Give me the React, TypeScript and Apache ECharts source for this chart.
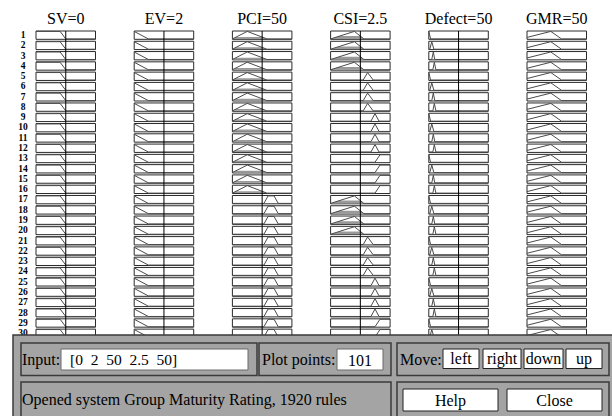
import { useEffect, useRef } from "react";
import * as echarts from "echarts";

// ---------- data ----------
const titles = ["SV=0", "EV=2", "PCI=50", "CSI=2.5", "Defect=50", "GMR=50"];
const inputValues = [0, 2, 50, 2.5, 50]; // SV, EV, PCI, CSI, Defect
const varRanges: number[][] = [[-1, 1], [0, 4], [0, 100], [0, 5], [0, 100], [0, 100]];
const rowLabels = ["1","2","3","4","5","6","7","8","9","10","11","12","13","14","15","16","17","18","19","20","21","22","23","24","25","26","27","28","29","30"];

// membership functions as [x, mu] vertices
const svMFs = [[[-1, 1], [-0.19, 1], [0, 0], [1, 0]]];
const evMFs = [[[0, 1], [0.95, 0], [4, 0]]];
const pciMFs = [
  [[0, 0], [25, 1], [58, 0], [100, 0]],
  [[0, 0], [53, 0], [60, 1], [70, 1], [77, 0], [100, 0]],
];
const csiMFs = [
  [[0, 0], [2.0, 1], [2.8, 0], [5, 0]],
  [[0, 0], [2.74, 0], [3.11, 1], [3.58, 0], [5, 0]],
  [[0, 0], [3.39, 0], [3.73, 1], [4.07, 0], [5, 0]],
  [[0, 0], [3.73, 0], [4.15, 1], [5, 1]],
];
const defectMFs = [
  [[0, 1], [3, 0], [100, 0]],
  [[0, 0], [1.7, 0], [5, 1], [8.5, 0], [100, 0]],
  [[0, 0], [5, 0], [7.6, 1], [10, 0], [100, 0]],
  [[0, 0], [6.8, 0], [9.3, 1], [11.9, 0], [100, 0]],
];
const gmrMFs = [[[0, 0.2], [40, 1], [58, 0], [100, 0]]];

// rule rows: MF index used in each of the 30 visible rules
const svRule = [0,0,0,0,0,0,0,0,0,0,0,0,0,0,0,0,0,0,0,0,0,0,0,0,0,0,0,0,0,0];
const evRule = [0,0,0,0,0,0,0,0,0,0,0,0,0,0,0,0,0,0,0,0,0,0,0,0,0,0,0,0,0,0];
const pciRule = [0,0,0,0,0,0,0,0,0,0,0,0,0,0,0,0,1,1,1,1,1,1,1,1,1,1,1,1,1,1];
const csiRule = [0,0,0,0,1,1,1,1,2,2,2,2,3,3,3,3,0,0,0,0,1,1,1,1,2,2,2,2,3,3];
const defectRule = [0,1,2,3,0,1,2,3,0,1,2,3,0,1,2,3,0,1,2,3,0,1,2,3,0,1,2,3,0,1];
const gmrRule = [0,0,0,0,0,0,0,0,0,0,0,0,0,0,0,0,0,0,0,0,0,0,0,0,0,0,0,0,0,0];

const mfSets = [svMFs, evMFs, pciMFs, csiMFs, defectMFs, gmrMFs];
const ruleSets = [svRule, evRule, pciRule, csiRule, defectRule, gmrRule];

// ---------- layout ----------
const colLeft = [36, 134.2, 232.4, 330.6, 428.8, 527];
const colWidth = 59.5;
const gridTop = 31;
const rowPitch = 10.28;
const H = 0.81; // box height as a fraction of a row
const PAD = 0.05;
const FONT = '"Liberation Serif", "Times New Roman", serif';

function muAt(pts: number[][], x: number) {
  for (let i = 1; i < pts.length; i++) {
    const [x0, m0] = pts[i - 1];
    const [x1, m1] = pts[i];
    if (x >= x0 && x <= x1) {
      if (x1 === x0) return Math.max(m0, m1);
      return m0 + ((x - x0) / (x1 - x0)) * (m1 - m0);
    }
  }
  return 0;
}

function clipAt(pts: number[][], level: number) {
  const out: number[][] = [];
  for (let i = 0; i < pts.length; i++) {
    const [x, m] = pts[i];
    if (i > 0) {
      const [px, pm] = pts[i - 1];
      if ((pm - level) * (m - level) < 0) {
        const t = (level - pm) / (m - pm);
        out.push([px + t * (x - px), level]);
      }
    }
    out.push([x, Math.min(m, level)]);
  }
  return out;
}

// firing strength of each rule (min of antecedent memberships)
const firing = rowLabels.map((_, r) => {
  let f = 1;
  for (let c = 0; c < 5; c++) f = Math.min(f, muAt(mfSets[c][ruleSets[c][r]], inputValues[c]));
  return f;
});

function makeRender(col: number) {
  return (params: any, api: any) => {
    const r = api.value(0);
    const mfIdx = api.value(1);
    const pts = mfSets[col][mfIdx];
    const [x0, x1] = varRanges[col];
    const yOf = (m: number) => r + H * (1 - PAD - (1 - 2 * PAD) * m);
    const P = (x: number, m: number) => api.coord([x, yOf(m)]);
    const tl = api.coord([x0, r]);
    const br = api.coord([x1, r + H]);
    const children: any[] = [];
    children.push({
      type: "rect",
      shape: { x: tl[0], y: tl[1], width: br[0] - tl[0], height: br[1] - tl[1] },
      style: { fill: "#fff", stroke: "#2a2a2a", lineWidth: 1 },
    });
    const level = col < 5 ? muAt(pts, inputValues[col]) : firing[r];
    if (level > 0.001) {
      const clipped = clipAt(pts, level);
      const poly = clipped.map(([x, m]) => P(x, m));
      poly.push(P(pts[pts.length - 1][0], 0));
      poly.push(P(pts[0][0], 0));
      children.push({ type: "polygon", shape: { points: poly }, style: { fill: "#999999", stroke: null } });
    }
    children.push({
      type: "polyline",
      shape: { points: pts.map(([x, m]) => P(x, m)) },
      style: { stroke: "#4a4a4a", fill: null, lineWidth: 1 },
    });
    return { type: "group", children };
  };
}

function buildOption() {
  const grids: any[] = [];
  const xAxes: any[] = [];
  const yAxes: any[] = [];
  const series: any[] = [];
  for (let c = 0; c < 6; c++) {
    grids.push({ left: colLeft[c], top: gridTop, width: colWidth, height: rowPitch * 30 });
    xAxes.push({ type: "value", gridIndex: c, min: varRanges[c][0], max: varRanges[c][1], show: false });
    yAxes.push({ type: "value", gridIndex: c, min: 0, max: 30, inverse: true, show: false });
    series.push({
      type: "custom",
      xAxisIndex: c,
      yAxisIndex: c,
      renderItem: makeRender(c),
      data: ruleSets[c].map((mf, r) => [r, mf]),
      encode: { x: -1, y: 0 },
      z: 2,
    });
    if (c < 5) {
      series.push({
        type: "line",
        xAxisIndex: c,
        yAxisIndex: c,
        data: [[inputValues[c], 0], [inputValues[c], 30]],
        symbol: "none",
        lineStyle: { color: "#000", width: 1 },
        z: 5,
        silent: true,
      });
    }
  }
  // row labels grid
  grids.push({ left: 28, top: gridTop - 1.2, width: 1, height: rowPitch * 30 });
  xAxes.push({ type: "value", gridIndex: 6, show: false });
  yAxes.push({
    type: "category",
    gridIndex: 6,
    data: rowLabels,
    inverse: true,
    axisLine: { show: false },
    axisTick: { show: false },
    axisLabel: { interval: 0, margin: 5, align: "center", fontSize: 9.5, fontWeight: "bold", fontFamily: FONT, color: "#000" },
  });

  const Z = 100;
  const panelStroke = "#3a3a3a";
  const text = (t: string, x: number, y: number, align: string, size = 16) => ({
    type: "text", x, y, z: Z + 3,
    style: { text: t, fontSize: size, fontFamily: FONT, fill: "#000", align, verticalAlign: "middle" },
  });
  const rect = (x: number, y: number, w: number, h: number, fill: string, stroke: string, lw = 1, z = Z + 1) => ({
    type: "rect", z, shape: { x, y, width: w, height: h }, style: { fill, stroke, lineWidth: lw },
  });

  const graphic: any[] = [];
  titles.forEach((t, c) => graphic.push({
    type: "text", x: colLeft[c] + colWidth / 2, y: 18,
    style: { text: t, fontSize: 16, fontFamily: FONT, fill: "#000", align: "center", verticalAlign: "middle" },
  }));
  graphic.push(rect(13, 335, 602, 85, "#a4a4a4", panelStroke, 1.5, Z));
  graphic.push(rect(21, 343, 236, 32.5, "#a4a4a4", panelStroke, 1.5));
  graphic.push(rect(259, 343, 132, 32.5, "#a4a4a4", panelStroke, 1.5));
  graphic.push(rect(397, 343, 212, 32.5, "#a4a4a4", panelStroke, 1.5));
  graphic.push(rect(21, 382, 370, 40, "#a4a4a4", panelStroke, 1.5));
  graphic.push(rect(397, 382, 212, 40, "#a4a4a4", panelStroke, 1.5));
  graphic.push(rect(61, 349, 187, 21, "#fff", "#6a6a6a", 1, Z + 2));
  graphic.push(rect(337, 349, 46, 21, "#fff", "#6a6a6a", 1, Z + 2));
  graphic.push(rect(443, 349, 36, 19.5, "#fff", "#222", 1, Z + 2));
  graphic.push(rect(483, 349, 38, 19.5, "#fff", "#222", 1, Z + 2));
  graphic.push(rect(524, 349, 39, 19.5, "#fff", "#222", 1, Z + 2));
  graphic.push(rect(566, 349, 36, 19.5, "#fff", "#222", 1, Z + 2));
  graphic.push(rect(403, 389, 95, 22, "#fff", "#222", 1, Z + 2));
  graphic.push(rect(507, 389, 95, 22, "#fff", "#222", 1, Z + 2));
  graphic.push(text("Input:", 22, 359, "left"));
  graphic.push(text("[0  2  50  2.5  50]", 70, 359, "left", 15.5));
  graphic.push(text("Plot points:", 262, 359, "left"));
  graphic.push(text("101", 360, 360, "center"));
  graphic.push(text("Move:", 400, 359, "left"));
  graphic.push(text("left", 461, 358.5, "center"));
  graphic.push(text("right", 502, 358.5, "center"));
  graphic.push(text("down", 543.5, 358.5, "center"));
  graphic.push(text("up", 584, 358.5, "center"));
  graphic.push(text("Opened system Group Maturity Rating, 1920 rules", 22, 399, "left"));
  graphic.push(text("Help", 450.5, 400, "center"));
  graphic.push(text("Close", 554.5, 400, "center"));

  return {
    animation: false,
    backgroundColor: "#fff",
    grid: grids,
    xAxis: xAxes,
    yAxis: yAxes,
    series,
    graphic,
  };
}

export default function App() {
  const ref = useRef<HTMLDivElement>(null);
  useEffect(() => {
    if (!ref.current) return;
    const chart = echarts.init(ref.current, undefined, { renderer: "svg" });
    chart.setOption(buildOption() as any);
    return () => chart.dispose();
  }, []);
  return <div ref={ref} style={{ position: "fixed", left: 0, top: 0, width: 612, height: 416 }} />;
}
